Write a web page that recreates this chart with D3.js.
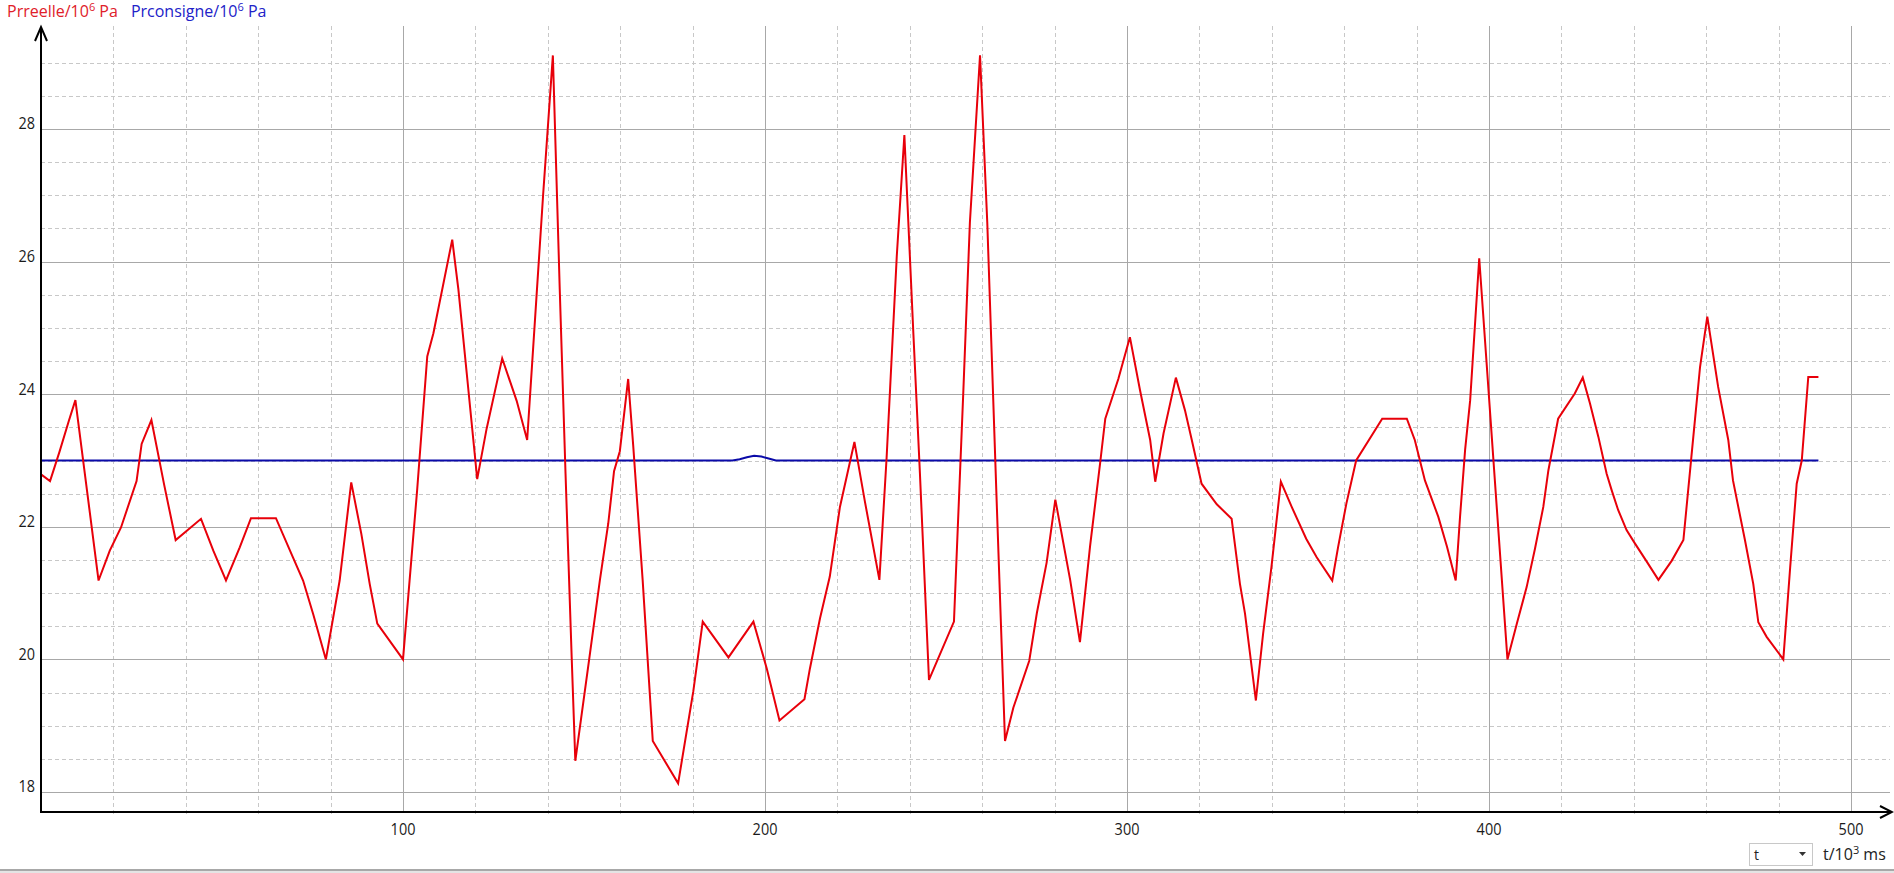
<!DOCTYPE html>
<html>
<head>
<meta charset="utf-8">
<script src="https://cdn.jsdelivr.net/npm/d3@7"></script>
<style>
  html, body { margin: 0; padding: 0; background: #ffffff; }
  svg { display: block; font-family: "Open Sans", "Noto Sans", sans-serif; }
</style>
</head>
<body>
<svg id="chart" width="1894" height="873"></svg>
<script>
// ---- data (t in 10^3 ms, pressures in 10^6 Pa) ----
const reelleT = [0, 2.5, 5.1, 7.7, 9.5, 15.9, 19.0, 22.1, 26.4, 27.8, 30.5, 34.0, 37.2, 40.7, 44.2, 47.6, 51.1, 54.9, 58.0, 64.9,
  69.6, 72.4, 75.2, 78.7, 82.5, 85.7, 88.5, 90.8, 92.9, 100, 103.9, 106.7, 108.4, 113.6, 115.3, 117.6, 120.5, 123.1, 127.4, 131.4,
  134.3, 136.9, 138.7, 141.4, 143.3, 144.9, 146.6, 147.6, 151.7, 154.4, 156.7, 158.3, 159.9, 162.2, 163.6, 166.2, 169.0, 176.0, 180.2, 182.8,
  189.9, 196.8, 200.5, 204.0, 210.9, 212.4, 215.2, 217.9, 220.7, 224.7, 227.6, 231.6, 233.6, 236.4, 238.5, 241.0, 242.8, 245.3, 252.2, 254.8,
  256.6, 259.4, 261.4, 264.0, 266.3, 268.6, 273.0, 275.1, 277.8, 280.2, 284.3, 287.0, 289.8, 292.6, 294.0, 297.6, 300.8, 303.6, 306.4, 307.8,
  310.1, 313.5, 316.0, 317.9, 320.6, 324.8, 328.9, 331.2, 332.6, 335.6, 337.6, 339.9, 342.5, 345.5, 349.5, 352.4, 356.7, 358.3, 360.6, 363.3,
  370.5, 377.3, 379.5, 382.3, 386.0, 388.4, 390.8, 392.0, 393.4, 394.8, 397.3, 405.1, 407.7, 410.4, 412.7, 415.0, 416.4,
  419.1, 423.7, 425.9, 427.9, 430.2, 432.5, 433.9, 435.7, 438.0, 440.3, 443.4, 446.8, 450.5, 453.7, 455.9, 458.3, 460.3, 463.3, 466.1, 467.4,
  470.7, 473.0, 474.4, 476.7, 481.3, 483.2, 485.0, 486.4, 488.2, 491.0];
const reelleP = [22.79, 22.69, 23.13, 23.6, 23.91, 21.19, 21.64, 21.99, 22.69, 23.25, 23.61, 22.64, 21.80, 21.96, 22.12, 21.64, 21.19, 21.69, 22.13, 22.13,
  21.54, 21.19, 20.68, 20.0, 21.19, 22.67, 21.89, 21.14, 20.54, 20.0, 22.55, 24.57, 24.92, 26.33, 25.58, 24.32, 22.72, 23.48, 24.54, 23.90,
  23.31, 25.49, 27.0, 29.11, 25.58, 22.80, 20.03, 18.47, 20.11, 21.20, 22.05, 22.84, 23.14, 24.23, 23.22, 21.20, 18.77, 18.13, 19.52, 20.57,
  20.03, 20.57, 19.86, 19.08, 19.40, 19.86, 20.62, 21.25, 22.30, 23.28, 22.38, 21.20, 23.05, 26.08, 27.91, 24.90, 22.80, 19.69, 20.57, 24.06,
  26.59, 29.11, 26.59, 22.38, 18.77, 19.27, 19.98, 20.70, 21.46, 22.41, 21.20, 20.26, 21.71, 22.97, 23.63, 24.23, 24.86, 24.06, 23.31, 22.68,
  23.41, 24.25, 23.76, 23.31, 22.65, 22.34, 22.12, 21.14, 20.69, 19.38, 20.39, 21.39, 22.68, 22.30, 21.82, 21.54, 21.19, 21.69, 22.35, 23.00,
  23.63, 23.63, 23.31, 22.70, 22.15, 21.70, 21.19, 22.15, 23.16, 23.91, 26.05, 20.0, 20.54, 21.09, 21.67, 22.30, 22.85,
  23.63, 24.01, 24.25, 23.86, 23.36, 22.80, 22.55, 22.25, 21.95, 21.75, 21.49, 21.20, 21.49, 21.80, 23.05, 24.41, 25.17, 24.11, 23.31, 22.70,
  21.80, 21.14, 20.56, 20.34, 20.0, 21.39, 22.65, 23.0, 24.26, 24.26];

const consigneT = [0, 191, 193, 195, 197, 199, 201, 203, 491];
const consigneP = [23, 23, 23.02, 23.05, 23.07, 23.06, 23.03, 23, 23];

const yTicks = [18, 20, 22, 24, 26, 28];
const xTicks = [100, 200, 300, 400, 500];
const seriesNames = ["Prreelle", "Prconsigne"];
const unitPa = "/10", unitPaExp = "6", unitPaTail = " Pa";
const xAxisName = "t/10", xAxisExp = "3", xAxisTail = " ms";
const selectorValue = "t";

// ---- layout ----
const W = 1894, H = 873;
const left = 41, right = 1890, axisY = 812, plotTop = 26;
const x = d3.scaleLinear().domain([0, 100]).range([left, left + 362]);
const y = d3.scaleLinear().domain([18, 28]).range([792, 129]);

const svg = d3.select("#chart");

// minor grid (dashed)
const g = svg.append("g");
const minorY = d3.range(18, 29.01, 0.5).filter(v => Math.abs(v % 2) > 1e-6);
g.selectAll("line.my").data(minorY).enter().append("line")
  .attr("x1", left).attr("x2", right)
  .attr("y1", d => Math.round(y(d)) + 0.5).attr("y2", d => Math.round(y(d)) + 0.5)
  .attr("stroke", "#c8c8c8").attr("stroke-width", 1).attr("stroke-dasharray", "4,3");
const minorX = d3.range(20, 501, 20).filter(v => v % 100 !== 0);
g.selectAll("line.mx").data(minorX).enter().append("line")
  .attr("x1", d => Math.round(x(d)) + 0.5).attr("x2", d => Math.round(x(d)) + 0.5)
  .attr("y1", plotTop).attr("y2", axisY + 3)
  .attr("stroke", "#c8c8c8").attr("stroke-width", 1).attr("stroke-dasharray", "4,3");
// major grid
g.selectAll("line.gy").data(yTicks).enter().append("line")
  .attr("x1", left).attr("x2", right)
  .attr("y1", d => Math.round(y(d)) + 0.5).attr("y2", d => Math.round(y(d)) + 0.5)
  .attr("stroke", "#a8a8a8").attr("stroke-width", 1);
g.selectAll("line.gx").data(xTicks).enter().append("line")
  .attr("x1", d => Math.round(x(d)) + 0.5).attr("x2", d => Math.round(x(d)) + 0.5)
  .attr("y1", plotTop).attr("y2", axisY)
  .attr("stroke", "#a8a8a8").attr("stroke-width", 1);

// series
const line = d3.line().x(d => x(d[0])).y(d => y(d[1]));
svg.append("path").datum(consigneT.map((t, i) => [t, consigneP[i]]))
  .attr("d", line).attr("fill", "none").attr("stroke", "#0a0aa8").attr("stroke-width", 2);
svg.append("path").datum(reelleT.map((t, i) => [t, reelleP[i]]))
  .attr("d", line).attr("fill", "none").attr("stroke", "#e8000a").attr("stroke-width", 2)
  .attr("stroke-linejoin", "miter");

// axes
const ax = svg.append("g").attr("stroke", "#000").attr("fill", "none").attr("stroke-width", 2);
ax.append("line").attr("x1", left).attr("x2", left).attr("y1", axisY + 1).attr("y2", 27);
ax.append("polyline").attr("points", `${left - 6},41 ${left},27 ${left + 6},41`);
ax.append("line").attr("x1", left).attr("x2", 1891).attr("y1", axisY).attr("y2", axisY);
ax.append("polyline").attr("points", `1880,806 1892,${axisY} 1880,818`);

// tick labels (narrow digits, as in the reference)
svg.append("g").selectAll("text").data(yTicks).enter().append("text")
  .attr("transform", d => `translate(35,${y(d) - 6}) scale(0.85,1)`).attr("text-anchor", "end")
  .attr("dominant-baseline", "central").attr("font-size", 17).attr("fill", "#1a1a1a").text(d => d);
svg.append("g").selectAll("text").data(xTicks).enter().append("text")
  .attr("transform", d => `translate(${x(d)},829) scale(0.85,1)`).attr("text-anchor", "middle")
  .attr("dominant-baseline", "central").attr("font-size", 17).attr("fill", "#1a1a1a").text(d => d);

// header legend
const hdr = svg.append("text").attr("x", 7).attr("y", 17).attr("font-size", 16);
const colors = ["#e0202a", "#2222c8"];
seriesNames.forEach((n, i) => {
  hdr.append("tspan").attr("fill", colors[i]).attr("dx", i === 0 ? 0 : 13).text(n + unitPa);
  hdr.append("tspan").attr("fill", colors[i]).attr("font-size", 11).attr("dy", -6).text(unitPaExp);
  hdr.append("tspan").attr("fill", colors[i]).attr("dy", 6).text(unitPaTail);
});

// bottom-right selector and axis name
svg.append("rect").attr("x", 1749.5).attr("y", 843.5).attr("width", 63).attr("height", 22)
  .attr("fill", "#fff").attr("stroke", "#c8c8c8");
svg.append("text").attr("x", 1754).attr("y", 854).attr("dominant-baseline", "central")
  .attr("font-size", 14).attr("fill", "#222").text(selectorValue);
svg.append("path").attr("d", "M1799,852 L1806,852 L1802.5,856 Z").attr("fill", "#333");
const xn = svg.append("text").attr("x", 1823).attr("y", 860).attr("font-size", 16).attr("fill", "#222");
xn.append("tspan").text(xAxisName);
xn.append("tspan").attr("font-size", 11).attr("dy", -6).text(xAxisExp);
xn.append("tspan").attr("dy", 6).text(xAxisTail);

// bottom window border
svg.append("rect").attr("x", 0).attr("y", 869).attr("width", W).attr("height", 2).attr("fill", "#a8a8a8");
svg.append("rect").attr("x", 0).attr("y", 871).attr("width", W).attr("height", 2).attr("fill", "#e4e4e4");
</script>
</body>
</html>
